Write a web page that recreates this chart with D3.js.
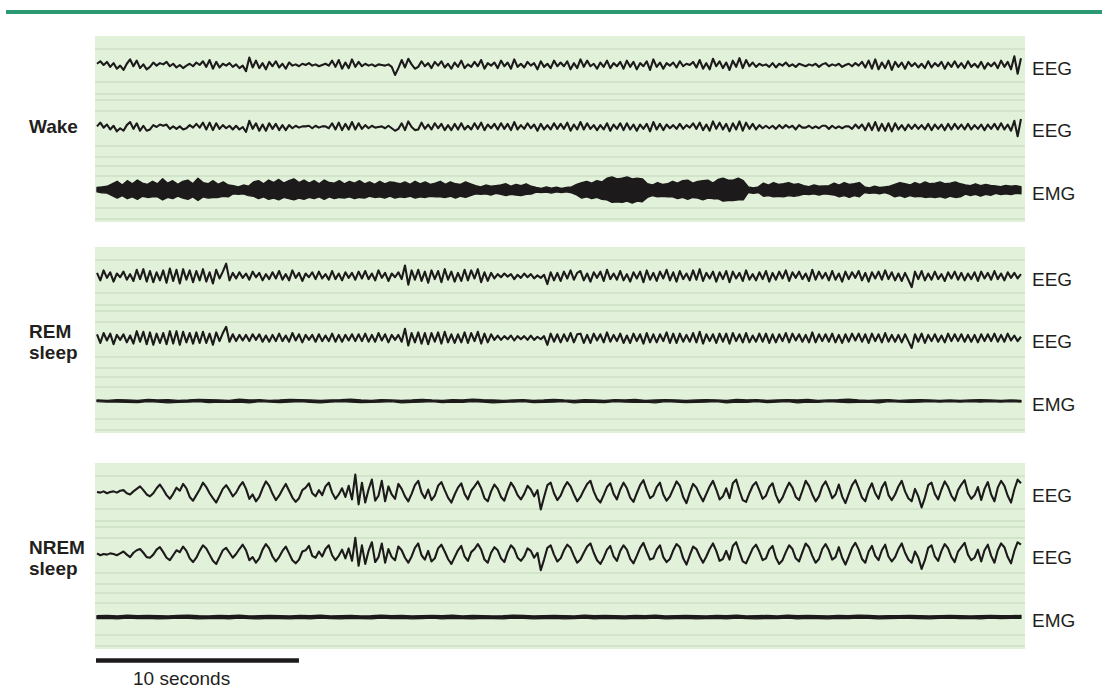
<!DOCTYPE html>
<html>
<head>
<meta charset="utf-8">
<script src="https://cdn.jsdelivr.net/npm/d3@7"></script>
<style>
  body { margin: 0; background: #fff; }
  text { font-family: "Liberation Sans", Arial, sans-serif; fill: #231f20; }
</style>
</head>
<body>
<div id="chart"></div>
<script>
// EEG traces, 280 samples across the 45.75 s window, values in µV
const wakeEEG1 = [
  4,12,0,10,-6,6,-12,-2,-16,4,18,-4,14,-10,2,-14,-6,8,-2,6,
  2,10,-4,4,-8,0,-10,-2,4,-4,8,0,12,-6,16,-12,10,-8,4,-2,
  6,-6,2,-10,-2,-20,24,-8,14,-10,6,-14,10,-4,12,-8,4,-12,8,-2,
  2,-4,4,0,6,-2,2,-4,0,4,-2,14,-6,16,-12,8,-10,18,-6,10,
  -4,4,-2,2,-4,2,0,-2,2,-6,-32,-10,16,-8,20,2,-12,-6,12,-4,
  6,-10,10,-2,12,-8,4,-12,8,-6,14,-10,2,-6,10,-4,16,-12,6,-2,
  8,-10,14,-4,8,-12,18,-6,4,-8,10,-2,6,-14,12,-6,4,-10,14,-4,
  8,-4,12,-14,6,-10,18,-6,14,-4,4,-12,8,-6,14,-10,6,-4,10,-12,
  14,-6,10,-14,6,-4,12,-16,18,-6,8,-12,6,-2,8,-8,12,-4,4,0,
  10,-8,16,-12,6,-14,20,-4,12,-10,8,-16,14,-6,22,-10,16,-4,8,-6,
  4,-2,2,-6,6,-8,4,-2,8,-4,2,-6,4,0,-4,2,-2,4,-6,2,
  6,-4,2,-2,4,-6,0,4,-4,6,-2,10,-8,14,-12,18,-14,8,-10,14,
  -16,10,-6,8,-12,10,-4,6,-8,4,-10,12,-8,6,-4,10,-12,8,-6,12,
  -8,6,-10,12,-6,4,-8,10,-12,6,-4,8,-10,14,-6,10,-14,28,-28,22
];
const wakeEEG2 = [
  2,14,-2,8,-8,4,-14,-4,-12,6,16,-6,12,-12,4,-12,-8,6,0,8,
  4,8,-6,2,-6,2,-8,-4,6,-2,10,-2,14,-8,14,-10,12,-6,6,-4,
  4,-8,4,-8,0,-16,20,-6,12,-12,8,-12,12,-6,10,-10,6,-10,6,-4,
  4,-2,2,2,4,-4,4,-2,2,2,-4,12,-8,14,-10,10,-8,16,-8,12,
  -6,6,-4,4,-2,0,2,-4,4,-4,-12,-6,12,-10,18,0,-10,-8,14,-6,
  8,-8,12,-4,10,-10,6,-10,10,-8,12,-8,4,-8,12,-6,14,-10,8,-4,
  10,-8,12,-6,10,-10,16,-8,6,-6,12,-4,8,-12,10,-8,6,-8,12,-6,
  10,-6,14,-12,8,-8,16,-8,12,-6,6,-10,6,-8,12,-12,8,-6,12,-10,
  12,-8,8,-12,8,-6,10,-14,16,-8,10,-10,8,-4,6,-6,10,-6,6,-2,
  12,-6,14,-10,8,-12,18,-6,14,-8,10,-14,12,-8,18,-12,14,-6,10,-8,
  6,-4,4,-4,4,-6,6,-4,6,-2,4,-8,6,-2,-2,4,-4,2,-4,4,
  4,-6,4,-4,2,-4,2,2,-6,8,-4,8,-10,12,-10,16,-12,10,-12,12,
  -14,12,-8,6,-10,8,-6,8,-6,6,-8,10,-10,8,-6,8,-10,10,-8,10,
  -6,8,-8,10,-8,6,-6,8,-10,8,-6,10,-8,12,-8,8,-12,20,-30,26
];
const remEEG1 = [
  10,-14,18,-6,12,-18,8,-4,14,-12,6,-16,20,-10,22,-18,16,-20,12,-14,
  18,-22,24,-16,20,-24,22,-12,18,-20,16,-14,22,-18,12,-24,20,-8,14,40,
  -14,10,-8,12,-6,8,-12,14,-4,10,-14,6,-10,12,-8,16,-12,6,-14,18,
  -6,10,-16,8,-4,12,-10,14,-8,6,-12,16,-10,8,-14,12,-6,10,-12,14,
  -8,16,-10,8,-14,18,-6,10,-16,8,-4,12,-10,34,-28,18,-12,20,-16,14,
  -22,18,-10,16,-20,22,-12,14,-18,10,-16,20,-14,18,-8,22,-20,12,-16,10,
  -8,6,-4,8,-2,6,-10,4,-6,8,-4,6,-8,2,-6,4,-26,12,-14,10,
  -16,14,-8,18,-12,10,16,-14,8,-18,12,-6,14,-16,20,-10,8,-12,16,-14,
  6,-18,12,-8,14,-20,18,-12,10,-16,14,-8,20,-14,12,-18,16,-10,8,-14,
  18,-12,22,-16,10,-8,14,-18,12,-10,16,-20,14,-8,10,-16,18,-12,6,-14,
  12,-10,16,-18,10,-12,14,-8,18,-16,12,-6,14,-10,8,-16,20,-12,14,-8,
  10,-14,16,-12,8,-18,14,-10,12,-6,16,-14,10,-18,12,-8,14,-12,18,-10,
  12,-14,8,-16,10,-12,-36,14,-10,16,-14,8,-12,14,-10,6,-16,12,-8,14,
  -12,10,-14,8,-10,12,-16,14,-8,10,-12,16,-10,8,-14,12,-6,10,-8,6
];
const remEEG2 = [
  12,-16,16,-8,14,-20,10,-6,12,-14,8,-18,22,-12,20,-20,18,-22,14,-16,
  16,-20,22,-18,22,-22,20,-14,16,-18,18,-16,20,-16,14,-22,18,-10,16,36,
  -12,12,-10,10,-8,10,-10,12,-6,12,-12,8,-12,10,-10,14,-10,8,-12,16,
  -8,12,-14,10,-6,10,-12,12,-10,8,-10,14,-12,10,-12,10,-8,12,-10,12,
  -10,14,-12,10,-12,16,-8,12,-14,10,-6,10,-12,30,-24,16,-14,18,-18,16,
  -20,16,-12,18,-18,20,-14,12,-16,12,-14,18,-16,16,-10,20,-18,14,-14,12,
  -6,8,-6,6,-4,8,-8,6,-4,6,-6,8,-6,4,-4,6,-22,14,-12,12,
  -14,12,-10,16,-14,12,14,-16,10,-16,14,-8,12,-14,18,-12,10,-10,14,-16,
  8,-16,14,-10,12,-18,16,-14,12,-14,12,-10,18,-16,14,-16,14,-12,10,-12,
  16,-14,20,-18,12,-10,12,-16,14,-12,14,-18,16,-10,12,-14,16,-14,8,-12,
  14,-12,14,-16,12,-14,12,-10,16,-14,14,-8,12,-12,10,-14,18,-14,12,-10,
  12,-12,14,-14,10,-16,12,-12,14,-8,14,-12,12,-16,14,-10,12,-14,16,-12,
  10,-12,10,-14,12,-10,-32,12,-12,14,-16,10,-10,12,-12,8,-14,14,-10,12,
  -10,12,-12,10,-12,10,-14,12,-10,12,-10,14,-12,10,-12,14,-8,8,-10,4
];
const nremEEG1 = [
  0,-2,2,-4,0,2,-2,4,6,-4,-8,2,10,18,6,-8,-14,-4,12,24,
  8,-10,-22,-6,14,4,26,12,-16,-28,-10,8,30,16,-4,-20,-34,-12,10,22,
  6,-14,-2,18,32,10,-22,-8,-30,-16,12,34,20,-6,-26,-12,8,26,4,-18,
  -32,-20,6,14,28,-4,-14,6,-10,18,30,-2,-22,-8,12,-16,20,-24,56,-40,
  30,-34,8,40,-28,-12,36,-30,18,-8,-22,26,10,-14,-30,-6,22,36,-2,-20,
  8,-26,-12,20,32,6,-18,-34,-8,14,28,-6,-24,4,18,34,12,-20,-30,2,
  24,10,-16,-28,4,30,14,-10,-24,-6,20,8,-14,6,-56,-16,22,30,-4,-26,
  -12,14,32,18,-8,-30,-16,6,26,36,2,-22,-34,-10,16,28,-6,-24,8,30,
  12,-18,-32,-4,22,38,6,-20,-12,16,30,-8,-28,-14,10,34,20,-16,-36,-2,
  26,14,-10,-30,-6,18,36,8,-24,-14,12,-20,28,40,4,-26,-32,-4,20,32,
  6,-22,-12,16,28,-10,-34,-18,8,30,14,-16,-26,4,36,20,-8,-30,-14,18,
  34,10,-20,-8,24,-14,-36,-6,22,38,12,-18,-30,6,28,-4,-22,14,32,-10,
  -26,-8,18,36,2,-20,-30,10,-14,-50,-18,22,30,-6,-24,8,34,16,-12,-28,
  6,24,38,-4,-22,-10,16,-26,10,32,-8,-30,14,36,20,-12,-34,8,40,28
];
const nremEEG2 = [
  2,-4,0,-2,2,0,-4,2,8,-2,-10,4,12,16,4,-10,-12,-2,14,22,
  6,-12,-20,-4,12,6,24,10,-14,-26,-12,10,28,18,-2,-22,-32,-10,12,20,
  4,-12,0,16,30,12,-20,-10,-28,-14,14,32,18,-8,-24,-10,10,24,2,-20,
  -30,-18,8,12,26,-6,-12,8,-8,16,28,-4,-20,-6,14,-14,18,-22,52,-38,
  28,-32,10,38,-26,-10,34,-28,16,-10,-20,24,12,-12,-28,-8,20,34,-4,-18,
  10,-24,-14,18,30,8,-16,-32,-10,12,26,-8,-22,6,16,32,14,-18,-28,4,
  22,12,-14,-26,6,28,16,-12,-22,-8,18,10,-12,4,-52,-18,20,28,-2,-24,
  -14,12,30,20,-6,-28,-18,4,24,34,4,-20,-32,-12,14,26,-8,-22,10,28,
  14,-16,-30,-6,20,36,8,-18,-14,14,28,-10,-26,-16,12,32,22,-14,-34,-4,
  24,16,-8,-28,-8,16,34,10,-22,-16,10,-18,26,38,6,-24,-30,-6,18,30,
  8,-20,-14,14,26,-12,-32,-20,6,28,16,-14,-24,6,34,22,-6,-28,-16,16,
  32,12,-18,-10,22,-12,-34,-8,20,36,14,-16,-28,8,26,-6,-20,12,30,-8,
  -24,-10,16,34,4,-18,-28,8,-12,-48,-20,20,28,-8,-22,10,32,18,-10,-26,
  8,22,36,-2,-20,-12,14,-24,12,30,-6,-28,12,34,22,-10,-30,10,38,30
];
// EMG envelope: peak (hi) and trough (lo) in each bin, 0.25 s bins (wake) and 0.5 s bins (sleep), µV
const wakeEmgHi = [
  8,10,12,20,28,16,30,20,32,22,18,28,20,36,22,30,18,28,32,20,
  38,24,20,30,18,26,16,14,10,16,12,26,30,20,32,24,34,22,30,36,
  24,32,22,30,20,32,24,22,30,20,28,22,30,20,26,18,28,20,26,24,
  20,26,18,28,20,26,18,22,28,18,26,20,18,26,20,14,10,16,12,14,
  16,20,12,18,14,20,12,8,5,10,6,9,5,8,10,18,24,28,22,30,
  26,38,42,36,38,42,36,38,36,20,16,24,18,20,28,22,30,32,22,28,
  30,32,22,34,38,32,32,38,30,10,7,10,22,16,24,18,20,24,18,20,
  14,11,16,12,13,14,22,16,24,18,20,24,10,7,12,8,10,12,18,24,
  20,16,24,18,26,20,22,26,20,22,26,20,16,14,20,14,18,15,13,11,
  15,12,14,11
];
const wakeEmgLo = [
  6,9,10,18,26,18,28,22,30,20,24,22,22,32,24,28,20,26,30,22,
  34,22,26,24,24,20,22,12,14,12,18,20,28,22,30,26,32,24,28,32,
  26,30,24,28,22,30,22,28,24,26,22,28,24,26,20,24,22,26,20,26,
  22,24,20,26,22,24,20,22,22,24,20,26,20,24,18,12,14,12,16,11,
  14,18,14,16,18,14,13,7,8,7,10,6,8,6,9,16,26,22,28,24,
  30,32,40,38,40,36,42,36,38,24,18,22,20,22,22,28,24,30,24,26,
  32,26,28,28,36,34,34,32,32,8,11,8,20,18,22,20,22,18,20,18,
  13,15,12,16,12,14,16,22,18,24,18,22,8,11,9,12,8,13,22,18,
  24,18,22,20,24,22,24,21,26,20,24,22,13,18,14,20,14,17,11,15,
  12,15,11,12
];
const remEmgHi = [
  3,2,4,3,2,5,3,4,2,3,5,4,3,2,6,3,4,2,3,5,
  4,3,2,3,4,6,3,2,4,3,2,3,5,3,2,4,3,6,4,3,
  2,3,4,2,3,5,3,2,4,3,2,4,3,5,2,3,4,3,2,3,
  4,3,2,5,3,4,2,3,4,3,5,2,3,4,6,3,2,3,4,2,
  3,4,3,2,3,2,3,4,3,2,3,2
];
const remEmgLo = [
  2,3,3,4,5,2,3,6,4,3,2,5,3,4,3,6,2,3,5,3,
  2,4,6,3,2,3,5,4,3,2,6,4,3,2,5,3,4,2,3,6,
  4,3,2,5,4,3,2,6,3,4,5,2,3,4,3,6,2,3,5,4,
  3,2,6,3,4,2,5,3,2,6,3,4,2,3,5,4,3,6,2,3,
  4,3,2,3,2,3,2,3,2,3,2,3
];
const nremEmgHi = [
  4,5,3,6,4,5,4,3,5,6,4,3,5,4,6,3,4,5,4,3,
  5,4,6,3,4,5,3,4,6,4,5,3,4,5,4,6,3,5,4,3,
  4,6,5,3,4,5,4,3,6,4,5,4,3,5,4,6,3,4,5,4,
  3,5,4,6,3,4,5,3,6,4,5,4,3,5,4,6,5,3,4,4,
  5,4,3,4,5,4,3,4,5,4,4,5
];
const nremEmgLo = [
  5,4,6,3,5,4,6,5,3,4,6,5,4,6,3,5,6,4,5,6,
  4,6,3,5,6,4,5,6,3,5,4,6,5,3,6,4,5,6,4,5,
  6,3,4,6,5,4,6,5,3,6,4,5,6,4,5,3,6,5,4,6,
  5,4,6,3,5,6,4,5,3,6,4,5,6,4,5,3,4,6,5,4,
  4,5,6,4,3,5,4,6,3,5,4,4
];

const stateLabels = [["Wake"], ["REM", "sleep"], ["NREM", "sleep"]];
const channelLabels = ["EEG", "EEG", "EMG"];
const scaleBarSeconds = 10;
const scaleBarLabel = "10 seconds";
const windowSeconds = 46;
const traceSeconds = 45.75;

const panels = [
  { eeg: [wakeEEG1, wakeEEG2], emg: [wakeEmgHi, wakeEmgLo] },
  { eeg: [remEEG1, remEEG2], emg: [remEmgHi, remEmgLo] },
  { eeg: [nremEEG1, nremEEG2], emg: [nremEmgHi, nremEmgLo] }
];

const width = 1102, height = 691;
const svg = d3.select("#chart").append("svg")
  .attr("width", width)
  .attr("height", height);

const x = d3.scaleLinear().domain([0, windowSeconds]).range([97, 1026]);
const panelTops = [36, 247, 463],
      panelH = 186,
      rowOffsets = [29, 91, 154],
      gridOffsets = [13, 46, 58, 64, 75, 110, 121, 130, 140, 172, 183];
const ink = "#1c1a1a";

// green rule at the top
svg.append("line")
  .attr("x1", 6).attr("x2", width)
  .attr("y1", 12).attr("y2", 12)
  .attr("stroke", "#2b9a72")
  .attr("stroke-width", 4);

const tAt = (i, n) => i * traceSeconds / (n - 1);

panels.forEach((p, pi) => {
  const g = svg.append("g").attr("transform", `translate(0,${panelTops[pi]})`);

  g.append("rect")
    .attr("x", 95).attr("y", 0)
    .attr("width", 930).attr("height", panelH)
    .attr("fill", "#e2f1da");

  g.selectAll("line.grid")
    .data(gridOffsets)
    .join("line")
    .attr("class", "grid")
    .attr("x1", 95).attr("x2", 1025)
    .attr("y1", d => d).attr("y2", d => d)
    .attr("stroke", "#c2d9ba")
    .attr("stroke-width", 1.2);

  const yRow = rowOffsets.map(o => d3.scaleLinear().domain([-100, 100]).range([o + 31, o - 31]));

  // EEG channels
  p.eeg.forEach((vals, k) => {
    const line = d3.line()
      .x((d, i) => x(tAt(i, vals.length)))
      .y(d => yRow[k](d));
    g.append("path")
      .attr("d", line(vals))
      .attr("fill", "none")
      .attr("stroke", ink)
      .attr("stroke-width", 2.1)
      .attr("stroke-linejoin", "round");
  });

  // EMG channel drawn as the filled peak/trough envelope
  const [hi, lo] = p.emg;
  const area = d3.area()
    .x((d, i) => x(tAt(i, hi.length)))
    .y0((d, i) => yRow[2](-lo[i]))
    .y1(d => yRow[2](d));
  g.append("path")
    .attr("d", area(hi))
    .attr("fill", ink)
    .attr("stroke", ink)
    .attr("stroke-width", 1.4)
    .attr("stroke-linejoin", "round");

  // channel labels
  g.selectAll("text.ch")
    .data(channelLabels)
    .join("text")
    .attr("class", "ch")
    .attr("x", 1032)
    .attr("y", (d, i) => rowOffsets[i] + 10)
    .attr("font-size", 19)
    .text(d => d);

  // state label
  const lab = stateLabels[pi];
  const base = lab.length === 1 ? rowOffsets[1] + 6 : rowOffsets[1];
  g.append("text")
    .attr("font-size", 19)
    .attr("font-weight", "bold")
    .selectAll("tspan")
    .data(lab)
    .join("tspan")
    .attr("x", 29)
    .attr("y", (d, i) => base + i * 21)
    .text(d => d);
});

// scale bar
svg.append("line")
  .attr("x1", x(0) - 1).attr("x2", x(scaleBarSeconds))
  .attr("y1", 660.5).attr("y2", 660.5)
  .attr("stroke", ink)
  .attr("stroke-width", 4.5);

svg.append("text")
  .attr("x", 133)
  .attr("y", 685)
  .attr("font-size", 19)
  .text(scaleBarLabel);
</script>
</body>
</html>
